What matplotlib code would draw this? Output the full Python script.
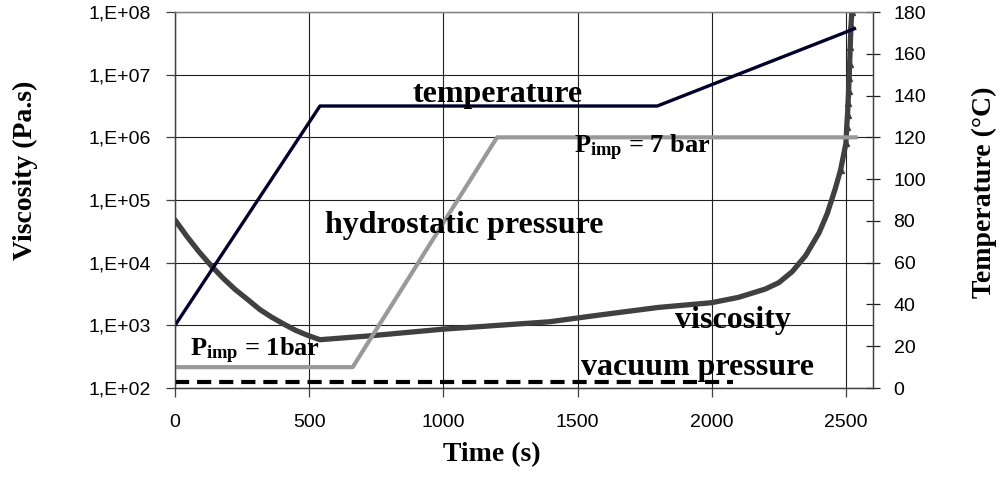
import numpy as np
import matplotlib
matplotlib.use("Agg")
import matplotlib.pyplot as plt
from matplotlib.ticker import FixedLocator, FuncFormatter

plt.rcParams['font.family'] = ['Liberation Sans', 'DejaVu Sans']
plt.rcParams['mathtext.fontset'] = 'custom'
plt.rcParams['mathtext.bf'] = 'Liberation Serif:bold'
plt.rcParams['mathtext.rm'] = 'Liberation Serif:bold'

# temperature profile (right axis, degC)
temp_time = [0, 540, 1797, 2532]
temp_value = [30, 135, 135, 172]

# hydrostatic pressure, drawn on the temperature scale
pres_time = [0, 662, 1200, 2536]
pres_value = [10, 10, 120, 120]

# vacuum pressure (right axis)
vac_time = [0, 2080]
vac_value = [2.8, 2.8]

# viscosity (left axis, Pa.s)
visc_time = [0, 45, 90, 135, 180, 225, 270, 315, 360, 405, 450, 495, 540,
             726, 1000, 1395, 1581, 1800, 2000, 2100, 2200, 2250, 2300, 2350,
             2400, 2430, 2460, 2480, 2500, 2503, 2506, 2508, 2510, 2512, 2514,
             2516, 2519, 2522]
visc_value = [4.8e4, 2.6e4, 1.48e4, 8.9e3, 5.6e3, 3.7e3, 2.6e3, 1.8e3, 1.35e3,
              1.05e3, 830, 690, 590,
              680, 870, 1.14e3, 1.46e3, 1.93e3, 2.3e3, 2.8e3, 3.8e3, 4.8e3,
              7.2e3, 1.3e4, 3.0e4, 6.0e4, 1.5e5, 3.0e5, 8.0e5, 1.45e6, 2.3e6,
              3.5e6, 5.5e6, 8.9e6, 1.5e7, 2.75e7, 6.2e7, 1.0e8]

x_ticks = [0, 500, 1000, 1500, 2000, 2500]
visc_ticks = [1e2, 1e3, 1e4, 1e5, 1e6, 1e7, 1e8]
temp_ticks = list(range(0, 181, 20))

fig = plt.figure(figsize=(10.02, 4.84), dpi=100)
ax = fig.add_axes([0.1747, 0.1983, 0.6963, 0.7769])
ax2 = ax.twinx()

steep = list(range(visc_time.index(2480), len(visc_time)))
ax.plot(visc_time, visc_value, color='#404040', lw=3.8, solid_joinstyle='round',
        solid_capstyle='round', marker='^', ms=4.2, mfc='#404040', mec='#404040',
        markevery=steep)
ax.set_yscale('log')
ax.set_ylim(1e2, 1e8)
ax.set_xlim(0, 2600)
ax.yaxis.set_major_locator(FixedLocator(visc_ticks))
ax.yaxis.set_minor_locator(FixedLocator([]))
ax.yaxis.set_major_formatter(FuncFormatter(lambda v, p: '1,E+%02d' % round(np.log10(v))))
ax.xaxis.set_major_locator(FixedLocator(x_ticks))
ax.grid(True, color='#202020', lw=0.8)

ax2.plot(pres_time, pres_value, color='#999999', lw=3.0)
ax2.plot(temp_time, temp_value, color='#00002a', lw=2.4)
ax2.plot(vac_time, vac_value, color='black', lw=3.0, dashes=(3.4, 1.9))
ax2.set_ylim(0, 180)
ax2.yaxis.set_major_locator(FixedLocator(temp_ticks))

for a in (ax, ax2):
    for s in a.spines.values():
        s.set_color('#404040')
        s.set_linewidth(0.9)
    a.spines['top'].set_color('#808080')

ax.tick_params(axis='y', direction='out', length=6.5, width=0.9, pad=11,
               labelsize=14, color='#404040')
ax.tick_params(axis='x', direction='out', length=6.5, width=0.9, pad=12,
               labelsize=14, color='#404040')
ax2.tick_params(axis='y', direction='inout', length=10, width=0.9, pad=10,
                labelsize=14, color='#202020')

lab = dict(family=['Liberation Serif', 'DejaVu Serif'], weight='bold', size=20)
ax.set_xlabel('Time (s)', va='center', **lab)
ax.xaxis.set_label_coords(0.454, -0.178)
ax.set_ylabel('Viscosity (Pa.s)', va='center', **lab)
ax.yaxis.set_label_coords(-0.215, 0.58)
ax2.set_ylabel('Temperature (\u00b0C)', va='center', **lab)
ax2.yaxis.set_label_coords(1.16, 0.52)

ann = dict(family=['Liberation Serif', 'DejaVu Serif'], weight='bold', size=23,
           va='baseline', ha='left')
ax2.text(886, 137, 'temperature', **ann)
ax2.text(559, 74.2, 'hydrostatic pressure', **ann)
ax2.text(1864, 28.7, 'viscosity', **ann)
ax2.text(1514, 6.2, 'vacuum pressure', **ann)
ann['size'] = 19
ax2.text(1488, 112.5, r'$\mathbf{P_{imp}}$ = 7 bar', **ann)
ax2.text(57, 15, r'$\mathbf{P_{imp}}$ = 1bar', **ann)

fig.savefig('out.png', dpi=100)
